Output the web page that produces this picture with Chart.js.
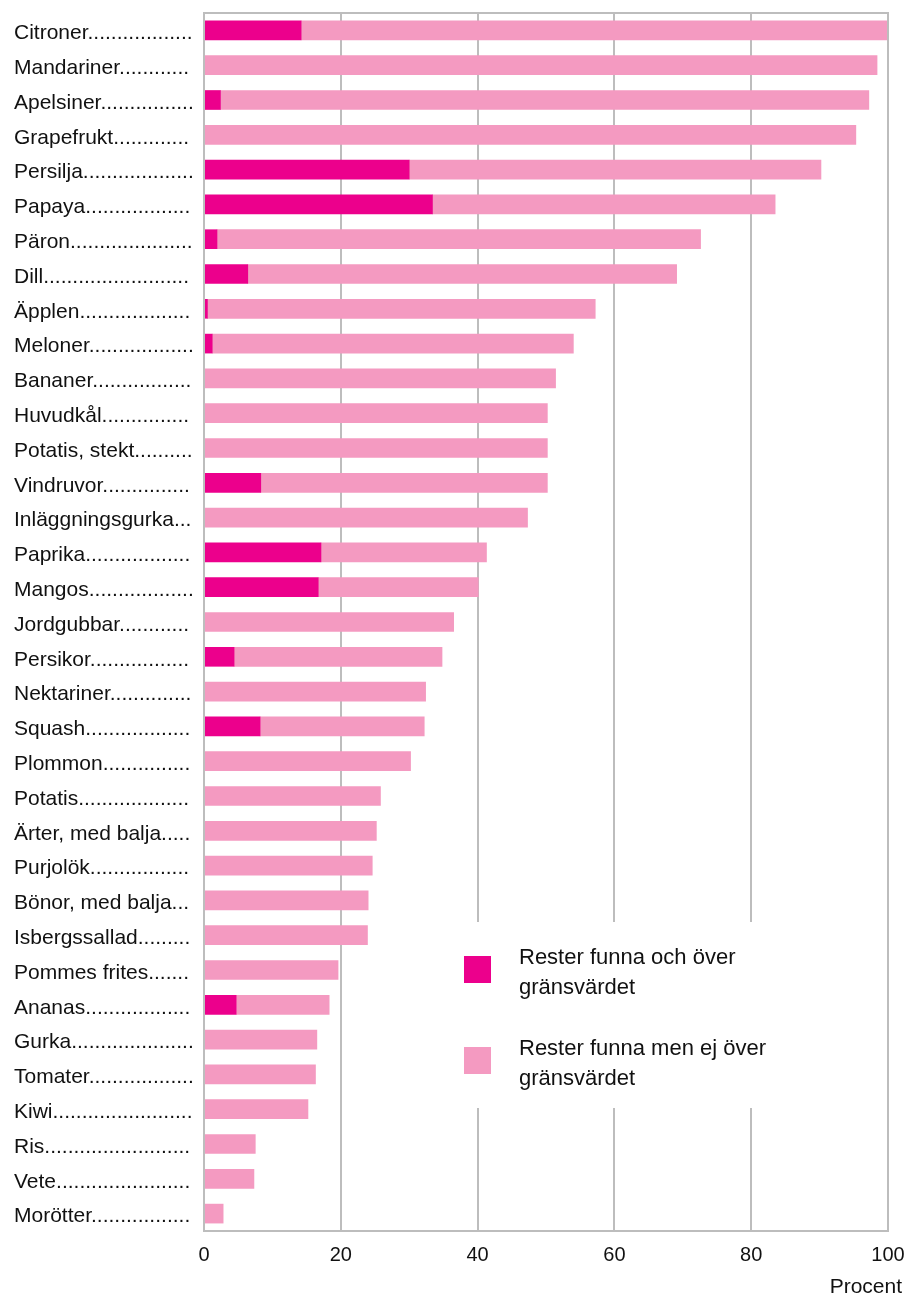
<!DOCTYPE html>
<html>
<head>
<meta charset="utf-8">
<script src="https://cdn.jsdelivr.net/npm/chart.js@4/dist/chart.umd.min.js"></script>
<style>
  html, body { margin: 0; padding: 0; background: #fff; }
  #wrap { width: 906px; height: 1295px; position: relative; }
</style>
</head>
<body>
<div id="wrap"><canvas id="chart" width="906" height="1295"></canvas></div>
<script>
const FONT = '"Liberation Sans", Arial, Helvetica, sans-serif';
const TEXT_COLOR = '#111111';
const GRID_COLOR = '#bdbdbd';
const DARK = '#ec008c';
const LIGHT = '#f49ac1';

const categories = [
  'Citroner', 'Mandariner', 'Apelsiner', 'Grapefrukt', 'Persilja', 'Papaya', 'Päron',
  'Dill', 'Äpplen', 'Meloner', 'Bananer', 'Huvudkål', 'Potatis, stekt', 'Vindruvor',
  'Inläggningsgurka', 'Paprika', 'Mangos', 'Jordgubbar', 'Persikor', 'Nektariner',
  'Squash', 'Plommon', 'Potatis', 'Ärter, med balja', 'Purjolök', 'Bönor, med balja',
  'Isbergssallad', 'Pommes frites', 'Ananas', 'Gurka', 'Tomater', 'Kiwi', 'Ris',
  'Vete', 'Morötter',
];

// share of samples with residues above the limit
const overLimit = [
  14.2, 0, 2.4, 0, 30.0, 33.4, 1.9,
  6.4, 0.5, 1.2, 0, 0, 0, 8.3,
  0, 17.1, 16.7, 0, 4.4, 0,
  8.2, 0, 0, 0, 0, 0,
  0, 0, 4.7, 0, 0, 0, 0,
  0, 0,
];

// share of samples with residues found but not above the limit
const belowLimit = [
  85.8, 98.4, 94.8, 95.3, 60.2, 50.1, 70.7,
  62.7, 56.7, 52.8, 51.4, 50.2, 50.2, 41.9,
  47.3, 24.2, 23.4, 36.5, 30.4, 32.4,
  24.0, 30.2, 25.8, 25.2, 24.6, 24.0,
  23.9, 19.6, 13.6, 16.5, 16.3, 15.2, 7.5,
  7.3, 2.8,
];

const xTicks = [0, 20, 40, 60, 80, 100];

const legendItems = [
  { color: DARK, lines: ['Rester funna och över', 'gränsvärdet'] },
  { color: LIGHT, lines: ['Rester funna men ej över', 'gränsvärdet'] },
];

// pad a label with dots up to a fixed width, like a table of contents
const measureCtx = document.createElement('canvas').getContext('2d');
function dotted(label, font, width) {
  measureCtx.font = font;
  let s = label;
  while (measureCtx.measureText(s + '.').width <= width) s += '.';
  return s;
}

const labelFont = '21px ' + FONT;

const framePlugin = {
  id: 'frame',
  afterDraw(chart) {
    const { ctx, chartArea: a } = chart;
    ctx.save();

    // legend box on top of the grid
    ctx.fillStyle = '#fff';
    ctx.fillRect(446, 922, 432, 186);

    ctx.strokeStyle = GRID_COLOR;
    ctx.lineWidth = 2;
    ctx.strokeRect(a.left, a.top, a.right - a.left, a.bottom - a.top);

    ctx.font = '22px ' + FONT;
    ctx.textBaseline = 'middle';
    legendItems.forEach((item, i) => {
      const y0 = 956 + i * 91;
      ctx.fillStyle = item.color;
      ctx.fillRect(464, y0, 27, 27);
      ctx.fillStyle = TEXT_COLOR;
      item.lines.forEach((line, j) => {
        ctx.fillText(line, 519, y0 + 2 + j * 30);
      });
    });

    ctx.font = '21px ' + FONT;
    ctx.textAlign = 'right';
    ctx.fillText('Procent', 902, 1287);
    ctx.restore();
  },
};

new Chart(document.getElementById('chart'), {
  type: 'bar',
  data: {
    labels: categories,
    datasets: [
      {
        label: 'Rester funna och över gränsvärdet',
        data: overLimit,
        backgroundColor: DARK,
        barThickness: 19,
      },
      {
        label: 'Rester funna men ej över gränsvärdet',
        data: belowLimit,
        backgroundColor: LIGHT,
        barThickness: 19,
      },
    ],
  },
  options: {
    indexAxis: 'y',
    responsive: false,
    animation: false,
    layout: { padding: { left: 14, right: 18, top: 13, bottom: 0 } },
    plugins: {
      legend: { display: false },
      tooltip: { enabled: false },
    },
    scales: {
      x: {
        stacked: true,
        min: 0,
        max: 100,
        afterBuildTicks(scale) {
          scale.ticks = xTicks.map((v) => ({ value: v }));
        },
        afterFit(scale) {
          scale.height = 64;
          scale.paddingLeft = 0;
          scale.paddingRight = 0;
        },
        grid: { color: GRID_COLOR, lineWidth: 2, drawTicks: false },
        border: { display: false },
        ticks: {
          color: TEXT_COLOR,
          font: { family: FONT, size: 20 },
          padding: 12,
          maxRotation: 0,
        },
      },
      y: {
        stacked: true,
        afterFit(scale) {
          scale.width = 190;
          scale.paddingTop = 0;
          scale.paddingBottom = 0;
        },
        grid: { display: false, drawTicks: false },
        border: { display: false },
        ticks: {
          crossAlign: 'far',
          color: TEXT_COLOR,
          font: { family: FONT, size: 21 },
          autoSkip: false,
          padding: 0,
          labelOffset: 3,
          callback(value) {
            return dotted(this.getLabelForValue(value), labelFont, 180);
          },
        },
      },
    },
  },
  plugins: [framePlugin],
});
</script>
</body>
</html>
